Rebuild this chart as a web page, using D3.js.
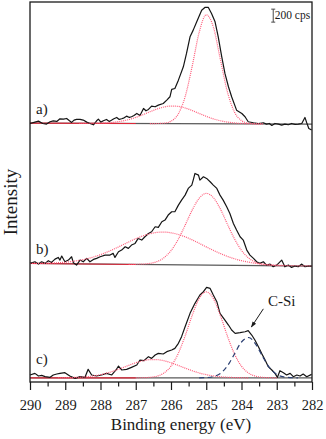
<!DOCTYPE html>
<html>
<head>
<meta charset="utf-8">
<script src="https://cdn.jsdelivr.net/npm/d3@7"></script>
<style>
  body { margin: 0; background: #fff; }
  svg { display: block; }
  svg text { font-family: "Liberation Serif", "DejaVu Serif", "Noto Serif", serif; fill: #1a1a1a; }
</style>
</head>
<body>
<svg id="chart" width="326" height="439"></svg>
<script>
// binding energy ticks (eV)
const majorTicks = [290, 289, 288, 287, 286, 285, 284, 283, 282];
const minorTicks = [289.5, 288.5, 287.5, 286.5, 285.5, 284.5, 283.5, 282.5];

const panelLabels = ["a)", "b)", "c)"];
const panelOffsets = [3970, 1800, 46];   // vertical stacking offset, cps

// measured spectra [binding energy, cps above panel offset]
const spectrumA = [[290.00,10],[289.86,31],[289.76,46],[289.64,10],[289.53,0],[289.43,36],[289.34,51],[289.24,41],[289.15,82],[289.05,77],[288.96,87],[288.88,51],[288.82,26],[288.75,62],[288.68,72],[288.58,72],[288.49,62],[288.39,31],[288.30,10],[288.20,-10],[288.11,51],[288.06,77],[287.99,31],[287.92,51],[287.83,72],[287.75,41],[287.68,62],[287.62,82],[287.54,103],[287.47,72],[287.40,82],[287.33,97],[287.26,123],[287.18,103],[287.12,113],[287.05,133],[286.97,164],[286.88,133],[286.78,241],[286.71,205],[286.64,226],[286.55,277],[286.45,267],[286.36,292],[286.22,318],[286.12,369],[286.03,421],[285.98,534],[285.89,549],[285.79,677],[285.65,882],[285.56,1088],[285.46,1344],[285.37,1447],[285.27,1575],[285.13,1754],[285.04,1796],[284.94,1796],[284.85,1703],[284.75,1575],[284.66,1344],[284.56,1036],[284.47,780],[284.37,575],[284.28,421],[284.14,215],[283.99,164],[283.90,113],[283.81,36],[283.66,21],[283.52,10],[283.38,21],[283.29,0],[283.21,10],[283.14,-21],[283.05,10],[282.95,0],[282.86,-15],[282.77,0],[282.67,-10],[282.58,10],[282.48,-5],[282.39,0],[282.29,10],[282.20,103],[282.15,21],[282.09,-67],[282.01,-92]];

const spectrumB = [[290.00,26],[289.86,51],[289.76,15],[289.67,51],[289.57,26],[289.48,67],[289.39,41],[289.29,92],[289.20,118],[289.15,77],[289.10,139],[289.01,51],[288.91,77],[288.82,128],[288.77,36],[288.68,0],[288.58,77],[288.49,51],[288.39,103],[288.30,51],[288.20,87],[288.11,103],[288.01,128],[287.87,154],[287.73,154],[287.64,180],[287.59,118],[287.49,205],[287.40,231],[287.30,282],[287.21,257],[287.12,308],[287.02,333],[286.93,410],[286.83,385],[286.74,436],[286.64,487],[286.55,513],[286.45,590],[286.36,580],[286.26,667],[286.17,693],[286.08,770],[285.98,821],[285.89,821],[285.79,923],[285.70,1000],[285.60,1077],[285.51,1180],[285.41,1231],[285.37,1308],[285.32,1411],[285.22,1385],[285.18,1308],[285.08,1359],[284.99,1334],[284.89,1283],[284.80,1231],[284.70,1180],[284.61,1077],[284.52,1000],[284.42,898],[284.33,795],[284.23,641],[284.14,539],[284.04,436],[283.95,385],[283.85,231],[283.76,154],[283.66,103],[283.57,51],[283.48,26],[283.38,51],[283.29,0],[283.19,15],[283.10,-26],[283.00,0],[282.86,77],[282.77,-26],[282.67,0],[282.58,-36],[282.48,-15],[282.39,-26],[282.29,15],[282.20,-26],[282.10,-15],[282.01,-15]];

const spectrumC = [[290.00,62],[289.86,87],[289.76,46],[289.67,56],[289.57,36],[289.43,26],[289.34,62],[289.24,77],[289.15,87],[289.01,97],[288.87,46],[288.72,10],[288.58,36],[288.44,26],[288.35,149],[288.25,62],[288.11,46],[287.97,62],[287.83,87],[287.68,62],[287.56,139],[287.49,200],[287.40,139],[287.26,149],[287.12,180],[286.97,215],[286.88,292],[286.77,282],[286.64,344],[286.55,318],[286.45,369],[286.36,395],[286.22,385],[286.12,421],[285.98,446],[285.89,472],[285.79,549],[285.70,652],[285.60,805],[285.46,1011],[285.32,1165],[285.18,1293],[285.08,1344],[284.99,1411],[284.89,1395],[284.80,1293],[284.70,1190],[284.61,1011],[284.47,908],[284.37,831],[284.28,754],[284.18,703],[284.04,713],[283.90,728],[283.81,744],[283.71,677],[283.62,600],[283.52,498],[283.43,395],[283.33,292],[283.24,190],[283.14,139],[283.05,87],[282.98,26],[282.91,128],[282.81,97],[282.72,62],[282.62,87],[282.53,36],[282.43,62],[282.34,46],[282.25,77],[282.15,36],[282.01,72]];

// background lines: cps at 290 eV and at 282 eV
const baselineA = [15, 0];
const baselineB = [25, -15];
const baselineC = [18, 18];

// fitted components, read on a 0.2 eV grid from 290 to 282 eV (cps above background)
const fitA1 = [0,0,0,0,0, 0,0,0,0,0, 0,0,0,0,0, 0,0,0,1,7, 38,144,413,882,1408, 1677,1492,991,492,182, 50,10,2,0,0, 0,0,0,0,0, 0];
const fitA2 = [0,0,0,0,0, 0,0,0,1,2, 5,10,20,36,60, 94,135,181,224,256, 271,266,242,203,158, 114,76,47,27,14, 7,3,1,0,0, 0,0,0,0,0, 0];
const fitB1 = [0,0,0,0,0, 0,0,0,0,0, 0,0,0,0,0, 2,6,18,46,107, 217,388,610,844,1028, 1103,1041,866,633,408, 231,115,51,20,7, 2,0,0,0,0, 0];
const fitB2 = [2,3,6,10,16, 24,37,55,78,108, 145,189,238,291,345, 396,440,474,496,502, 492,468,432,386,334, 280,228,180,137,101, 73,51,34,22,14, 9,5,3,2,1, 1];
const fitC1 = [0,0,0,0,0, 0,0,0,0,0, 0,0,0,0,0, 0,2,8,26,74, 179,368,644,961,1222, 1324,1222,961,644,368, 179,74,26,8,2, 0,0,0,0,0, 0];
const fitC2 = [0,0,0,0,0, 2,5,9,17,29, 49,75,110,150,192, 232,263,280,280,263, 232,192,150,110,75, 49,29,17,9,5, 2,0,0,0,0, 0,0,0,0,0, 0];
const fitCSi = [0,0,0,0,0, 0,0,0,0,0, 0,0,0,0,0, 0,0,0,0,0, 0,0,0,0,0, 4,19,67,182,367, 552,621,520,326,153, 53,14,3,0,0, 0];

const scaleBarCps = 200;

const panels = [
  { spectrum: spectrumA, base: baselineA, fits: [fitA1, fitA2], siFit: null },
  { spectrum: spectrumB, base: baselineB, fits: [fitB1, fitB2], siFit: null },
  { spectrum: spectrumC, base: baselineC, fits: [fitC1, fitC2], siFit: fitCSi }
];

const fitEnergy = fitA1.map((v, i) => 290 - i * 0.2);

const svg = d3.select("#chart");
const frame = { left: 30, right: 312, top: 2, bottom: 382 };

const x = d3.scaleLinear().domain([290, 282]).range([frame.left, frame.right]);
const y = d3.scaleLinear().domain([0, 5850]).range([frame.bottom, frame.top]);

// trim a fitted component to where it leaves the background
function trimmed(values) {
  let first = values.findIndex(v => v > 0);
  let last = values.length - 1 - [...values].reverse().findIndex(v => v > 0);
  first = Math.max(0, first - 1);
  last = Math.min(values.length - 1, last + 1);
  return d3.range(first, last + 1);
}

panels.forEach(function(p, k) {
  const off = panelOffsets[k];
  const baseAt = d3.scaleLinear().domain([290, 282]).range(p.base);
  const g = svg.append("g").attr("class", "panel");

  // grey background
  g.append("path")
    .attr("d", d3.line()([[x(290), y(off + p.base[0])], [x(282), y(off + p.base[1])]]))
    .attr("fill", "none")
    .attr("stroke", "#5a5a5a")
    .attr("stroke-width", 1.2);

  // red background at the low-intensity side
  g.append("path")
    .attr("d", d3.line()([[x(290), y(off + baseAt(290))], [x(287), y(off + baseAt(287))]]))
    .attr("fill", "none")
    .attr("stroke", "#e0283a")
    .attr("stroke-width", 1.1);

  // measured spectrum
  g.append("path")
    .datum(p.spectrum)
    .attr("d", d3.line().x(d => x(d[0])).y(d => y(off + d[1])))
    .attr("fill", "none")
    .attr("stroke", "#151515")
    .attr("stroke-width", 1.2)
    .attr("stroke-linejoin", "round");

  const fitLine = d3.line()
    .x(i => x(fitEnergy[i]))
    .curve(d3.curveMonotoneX);

  p.fits.forEach(function(f) {
    g.append("path")
      .datum(trimmed(f))
      .attr("d", fitLine.y(i => y(off + baseAt(fitEnergy[i]) + f[i])))
      .attr("fill", "none")
      .attr("stroke", "#ff5a78")
      .attr("stroke-width", 1.2)
      .attr("stroke-dasharray", "1,1");
  });

  if (p.siFit) {
    const f = p.siFit;
    g.append("path")
      .datum(trimmed(f))
      .attr("d", fitLine.y(i => y(off + baseAt(fitEnergy[i]) + f[i])))
      .attr("fill", "none")
      .attr("stroke", "#2b3f72")
      .attr("stroke-width", 1.2)
      .attr("stroke-dasharray", "5,3.5");
  }

  g.append("text")
    .attr("x", x(289.83))
    .attr("y", y(off + [150, 165, 228][k]))
    .style("font-size", "15px")
    .text(panelLabels[k]);
});

// C-Si annotation
svg.append("defs").append("marker")
  .attr("id", "head")
  .attr("viewBox", "0 0 10 10")
  .attr("refX", 9).attr("refY", 5)
  .attr("markerWidth", 6).attr("markerHeight", 6)
  .attr("orient", "auto")
  .append("path")
  .attr("d", "M0,1.5 L10,5 L0,8.5 z")
  .attr("fill", "#1a1a1a");

svg.append("line")
  .attr("x1", x(283.38)).attr("y1", y(panelOffsets[2] + 1080))
  .attr("x2", x(283.72)).attr("y2", y(panelOffsets[2] + 800))
  .attr("stroke", "#1a1a1a")
  .attr("stroke-width", 1)
  .attr("marker-end", "url(#head)");

svg.append("text")
  .attr("x", x(283.25))
  .attr("y", y(panelOffsets[2] + 1125))
  .style("font-size", "15px")
  .text("C-Si");

// scale bar
const barX = x(283.1);
const barTop = 5740;
const bar = svg.append("g").attr("stroke", "#4a4a4a").attr("stroke-width", 1);
bar.append("line").attr("x1", barX).attr("x2", barX).attr("y1", y(barTop)).attr("y2", y(barTop - scaleBarCps));
bar.append("line").attr("x1", barX - 2).attr("x2", barX + 2).attr("y1", y(barTop)).attr("y2", y(barTop));
bar.append("line").attr("x1", barX - 2).attr("x2", barX + 2).attr("y1", y(barTop - scaleBarCps)).attr("y2", y(barTop - scaleBarCps));
svg.append("text")
  .attr("x", barX + 1.5)
  .attr("y", 19)
  .style("font-size", "11.5px")
  .text(scaleBarCps + " cps");

// axes
const xAxis = svg.append("g")
  .attr("transform", "translate(0," + frame.bottom + ")")
  .call(d3.axisBottom(x).tickValues(majorTicks).tickSize(8).tickFormat(d3.format("d")));
xAxis.attr("font-family", null).attr("font-size", null);
xAxis.select(".domain").remove();
xAxis.selectAll("line").attr("stroke", "#1a1a1a").attr("stroke-width", 1.2);
xAxis.selectAll("text")
  .attr("y", 28).attr("dy", null)
  .attr("fill", "#1a1a1a")
  .style("font-size", "14.5px");

const xMinor = svg.append("g")
  .attr("transform", "translate(0," + frame.bottom + ")")
  .call(d3.axisBottom(x).tickValues(minorTicks).tickSize(4.5).tickFormat(""));
xMinor.select(".domain").remove();
xMinor.selectAll("line").attr("stroke", "#1a1a1a").attr("stroke-width", 1.2);

svg.append("rect")
  .attr("x", frame.left).attr("y", frame.top)
  .attr("width", frame.right - frame.left).attr("height", frame.bottom - frame.top)
  .attr("fill", "none")
  .attr("stroke", "#1a1a1a")
  .attr("stroke-width", 1.3);

svg.append("text")
  .attr("x", 181).attr("y", 430)
  .attr("text-anchor", "middle")
  .style("font-size", "17px")
  .text("Binding energy (eV)");

svg.append("text")
  .attr("transform", "translate(17,202) rotate(-90)")
  .attr("text-anchor", "middle")
  .style("font-size", "19px")
  .text("Intensity");
</script>
</body>
</html>
